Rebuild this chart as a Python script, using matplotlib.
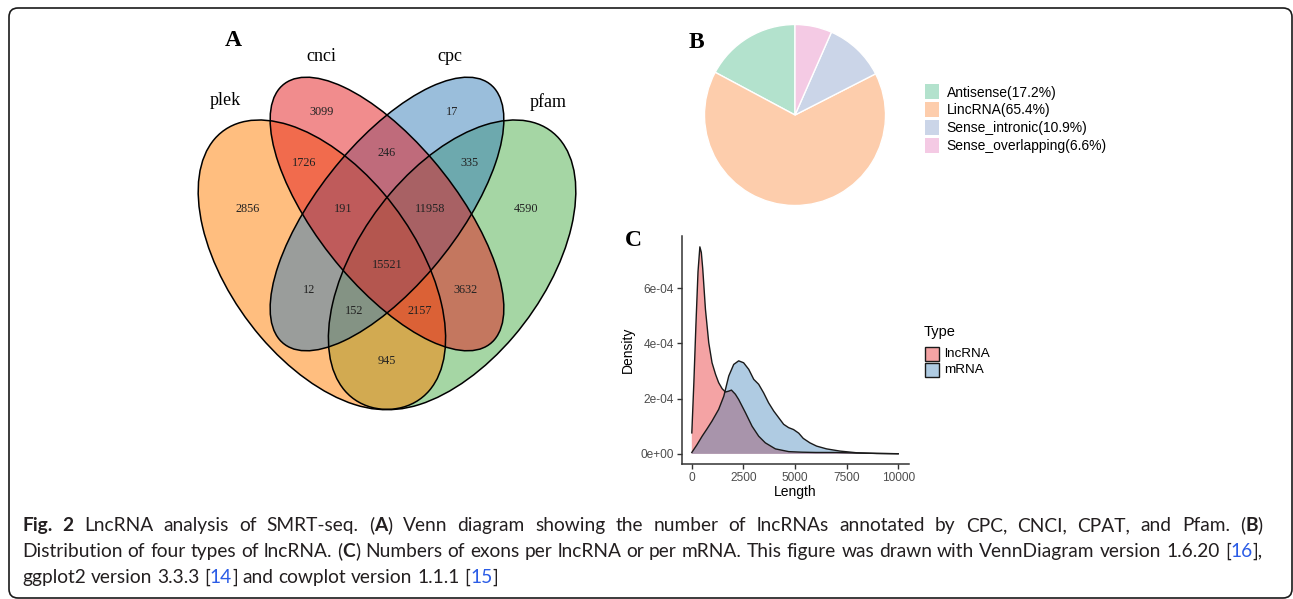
import matplotlib
matplotlib.use("Agg")
import matplotlib.pyplot as plt
from matplotlib.patches import Ellipse, Rectangle, FancyBboxPatch

W, H, DPI = 1293, 599, 100

# ---------------- data ----------------
venn_names = ["plek", "cnci", "cpc", "pfam"]
venn_fill = ["#FF7F00", "#E41A1C", "#377EB8", "#4DAF4A"]
region_sets = [("plek",), ("cnci",), ("cpc",), ("pfam",),
               ("plek", "cnci"), ("cnci", "cpc"), ("cpc", "pfam"),
               ("plek", "cnci", "cpc"), ("cnci", "cpc", "pfam"),
               ("plek", "cnci", "cpc", "pfam"),
               ("plek", "cpc"), ("cnci", "pfam"),
               ("plek", "cpc", "pfam"), ("plek", "cnci", "pfam"),
               ("plek", "pfam")]
region_counts = [2856, 3099, 17, 4590, 1726, 246, 335, 191, 11958, 15521,
                 12, 3632, 152, 2157, 945]

pie_types = ["Antisense", "LincRNA", "Sense_intronic", "Sense_overlapping"]
pie_pct = [17.2, 65.4, 10.9, 6.6]
pie_colors = ["#B3E2CD", "#FDCDAC", "#CBD5E8", "#F4CAE4"]

dens_types = ["lncRNA", "mRNA"]
dens_colors = ["#E41A1C", "#377EB8"]
dens_unit = 1e-4
lnc_len = [0, 100, 200, 300, 390, 460, 530, 660, 820, 980, 1150, 1300, 1470,
           1630, 1780, 1920, 2110, 2270, 2600, 2920, 3240, 3560, 4050, 4700,
           5350, 6000, 7000, 8000, 9000, 10000]
lnc_den = [0.76, 2.6, 4.7, 6.6, 7.5, 7.3, 6.7, 5.24, 4.03, 3.30, 2.88, 2.58,
           2.36, 2.24, 2.27, 2.31, 2.16, 1.97, 1.49, 1.00, 0.64, 0.40, 0.18,
           0.08, 0.06, 0.05, 0.05, 0.03, 0.015, 0.005]
mrna_len = [0, 250, 500, 750, 980, 1300, 1550, 1790, 2030, 2270, 2510, 2760,
            3000, 3240, 3480, 3720, 3970, 4210, 4450, 4690, 4930, 5180, 5400,
            5720, 6050, 6530, 7180, 7980, 8950, 10000]
mrna_den = [0.05, 0.33, 0.64, 0.92, 1.19, 1.61, 2.09, 2.82, 3.24, 3.37, 3.30,
            3.06, 2.70, 2.52, 2.21, 1.85, 1.55, 1.31, 1.07, 0.95, 0.88, 0.75,
            0.56, 0.40, 0.28, 0.18, 0.10, 0.04, 0.015, 0.003]
x_ticks = [0, 2500, 5000, 7500, 10000]
y_ticks = [0, 2e-4, 4e-4, 6e-4]

caption_lines = [
    [("Fig. 2", "bold", "k"), (" LncRNA analysis of SMRT-seq. (", "normal", "k"),
     ("A", "bold", "k"),
     (") Venn diagram showing the number of lncRNAs annotated by CPC, CNCI, CPAT, and Pfam. (", "normal", "k"),
     ("B", "bold", "k"), (")", "normal", "k")],
    [("Distribution of four types of lncRNA. (", "normal", "k"), ("C", "bold", "k"),
     (") Numbers of exons per lncRNA or per mRNA. This figure was drawn with VennDiagram version 1.6.20 [", "normal", "k"),
     ("16", "normal", "b"), ("],", "normal", "k")],
    [("ggplot2 version 3.3.3 [", "normal", "k"), ("14", "normal", "b"),
     ("] and cowplot version 1.1.1 [", "normal", "k"), ("15", "normal", "b"),
     ("]", "normal", "k")],
]
caption_justify = [True, True, False]

# ---------------- layout / style ----------------
SERIF = "Liberation Serif"
SANS = "Liberation Sans"
CAP_FONT = "Lato"
TXT = "#231F20"
LINK = "#2B5CE6"

fig = plt.figure(figsize=(W / DPI, H / DPI), dpi=DPI)
fig.patch.set_facecolor("white")


def add_axes_px(x0, y0, x1, y1):
    return fig.add_axes([x0 / W, 1 - y1 / H, (x1 - x0) / W, (y1 - y0) / H])


# ---------------- A: Venn ----------------
sx, sy = 434.0, 508.0
cxp, cyp = 387.0, 214.0
X0, X1, Y0, Y1 = 180, 600, 10, 430
axv = add_axes_px(X0, Y0, X1, Y1)
axv.set_xlim(0.5 + (X0 - cxp) / sx, 0.5 + (X1 - cxp) / sx)
axv.set_ylim(0.57 - (Y1 - cyp) / sy, 0.57 + (cyp - Y0) / sy)
axv.axis("off")

ell_layout = {"plek": (0.35, 0.47, 0.35, 0.20, -45),
              "cnci": (0.50, 0.57, 0.35, 0.15, -45),
              "cpc": (0.50, 0.57, 0.35, 0.15, 45),
              "pfam": (0.65, 0.47, 0.35, 0.20, 45)}
fill_order = ["pfam", "plek", "cpc", "cnci"]
for nm in fill_order:
    x, y, a, b, ang = ell_layout[nm]
    col = venn_fill[venn_names.index(nm)]
    axv.add_patch(Ellipse((x, y), 2 * a, 2 * b, angle=ang, facecolor=col,
                          alpha=0.5, edgecolor="none"))
for nm in venn_names:
    x, y, a, b, ang = ell_layout[nm]
    axv.add_patch(Ellipse((x, y), 2 * a, 2 * b, angle=ang, facecolor="none",
                          edgecolor="black", lw=1.1))

region_pos = {("plek",): (0.18, 0.58), ("cnci",): (0.35, 0.77),
              ("cpc",): (0.65, 0.77), ("pfam",): (0.82, 0.58),
              ("plek", "cnci"): (0.31, 0.67), ("cnci", "cpc"): (0.50, 0.69),
              ("cpc", "pfam"): (0.69, 0.67), ("plek", "cnci", "cpc"): (0.40, 0.58),
              ("cnci", "cpc", "pfam"): (0.60, 0.58),
              ("plek", "cnci", "cpc", "pfam"): (0.50, 0.47),
              ("plek", "cpc"): (0.32, 0.42), ("cnci", "pfam"): (0.68, 0.42),
              ("plek", "cpc", "pfam"): (0.425, 0.38),
              ("plek", "cnci", "pfam"): (0.575, 0.38),
              ("plek", "pfam"): (0.50, 0.28)}
for members, cnt in zip(region_sets, region_counts):
    x, y = region_pos[members]
    axv.text(x, y, str(cnt), ha="center", va="center", fontsize=8.8,
             family=SERIF, color="#222222")

cat_pos = {"plek": (0.127, 0.794), "cnci": (0.348, 0.881),
           "cpc": (0.646, 0.881), "pfam": (0.872, 0.79)}
for nm in venn_names:
    x, y = cat_pos[nm]
    axv.text(x, y, nm, ha="center", va="center", fontsize=13, family=SERIF,
             color="black")

# ---------------- B: pie ----------------
r_px = 90.5
pcx, pcy = 795.0, 115.0
axp = add_axes_px(pcx - 100, pcy - 100, pcx + 100, pcy + 100)
axp.pie(pie_pct, colors=pie_colors, startangle=90, counterclock=True, radius=1,
        wedgeprops=dict(edgecolor="white", linewidth=1.0))
lim = 100 / r_px
axp.set_xlim(-lim, lim)
axp.set_ylim(-lim, lim)
axp.axis("off")

# ---------------- C: density ----------------
all_d = [v * dens_unit for v in lnc_den + mrna_den]
dmax = max(all_d)
axd = add_axes_px(681.5, 236.5, 908.5, 464.2)
for xs, ds, col in [(lnc_len, lnc_den, dens_colors[0]),
                    (mrna_len, mrna_den, dens_colors[1])]:
    dv = [v * dens_unit for v in ds]
    axd.fill_between(xs, 0, dv, facecolor=col, alpha=0.4, lw=0)
    axd.plot(xs, dv, color="#1a1a1a", lw=1.0, solid_joinstyle="round")
xr = 10000
axd.set_xlim(-0.05 * xr, xr * 1.05)
axd.set_ylim(-0.05 * dmax, dmax * 1.05)
axd.set_xticks(x_ticks)
axd.set_xticklabels([str(v) for v in x_ticks])
axd.set_yticks(y_ticks)
axd.set_yticklabels([f"{v:.0e}" for v in y_ticks])
for s in ["top", "right"]:
    axd.spines[s].set_visible(False)
for s in ["left", "bottom"]:
    axd.spines[s].set_color("#333333")
    axd.spines[s].set_linewidth(1.1)
axd.tick_params(length=3.6, width=1.0, color="#333333", labelsize=8.6,
                labelcolor="#4D4D4D", pad=2)
for lab in axd.get_xticklabels() + axd.get_yticklabels():
    lab.set_family(SANS)
axd.set_facecolor("none")

# ---------------- overlay (pixel coordinates) ----------------
ov = fig.add_axes([0, 0, 1, 1])
ov.set_xlim(0, W)
ov.set_ylim(H, 0)
ov.axis("off")
ov.patch.set_alpha(0)

ov.add_patch(FancyBboxPatch((9, 8), 1283, 590,
                            boxstyle="round,pad=0,rounding_size=9",
                            facecolor="none", edgecolor="#1a1a1a", lw=1.2))

for lab, (x, y) in zip(["A", "B", "C"], [(233, 41), (696, 42), (633, 241)]):
    ov.text(x, y, lab, ha="center", va="center", fontsize=17,
            fontweight="bold", family=SERIF, color="black")

# pie legend
for i, (nm, pct, col) in enumerate(zip(pie_types, pie_pct, pie_colors)):
    yc = 91.5 + i * 17.9
    ov.add_patch(Rectangle((925, yc - 7.5), 14.3, 15, facecolor=col,
                           edgecolor="none"))
    ov.text(946.7, yc + 1, f"{nm}({pct}%)", ha="left", va="center",
            fontsize=10, family=SANS, color="black")

# density legend
ov.text(923.3, 332, "Type", ha="left", va="center", fontsize=10.5,
        family=SANS, color="black")
for i, (nm, col) in enumerate(zip(dens_types, dens_colors)):
    yt = 347 + i * 15.7
    ov.add_patch(Rectangle((924.5, yt), 14.5, 14.3, facecolor=col, alpha=0.4,
                           edgecolor="none"))
    ov.add_patch(Rectangle((924.5, yt), 14.5, 14.3, facecolor="none",
                           edgecolor="#1a1a1a", lw=1.0))
    ov.text(944.3, yt + 7.2, nm, ha="left", va="center", fontsize=9.7,
            family=SANS, color="black")

ov.text(795, 492, "Length", ha="center", va="center", fontsize=10,
        family=SANS, color="black")
ov.text(628, 350, "Density", ha="center", va="center", fontsize=10,
        rotation=90, family=SANS, color="black")

# caption (justified like the journal layout)
renderer = fig.canvas.get_renderer()


def text_w(s, **kw):
    t = ov.text(0, 0, s, **kw)
    w = t.get_window_extent(renderer).width
    t.remove()
    return w


def rich_line(segs, x, y, size, extra=0.0, draw=True):
    for s, weight, c in segs:
        kw = dict(fontsize=size, family=CAP_FONT, fontweight=weight)
        sp = text_w("a a", **kw) - text_w("aa", **kw) + extra
        words = s.split(" ")
        for j, wd in enumerate(words):
            if j > 0:
                x += sp
            if wd:
                if draw:
                    ov.text(x, y, wd, ha="left", va="baseline",
                            color=(LINK if c == "b" else TXT), **kw)
                x += text_w(wd, **kw)
    return x


CAP_X0, CAP_X1 = 22.0, 1263.0
base = 12.0
wmax = max(rich_line(segs, 0, 0, base, draw=False) for segs in caption_lines[:2])
cap_size = base * (CAP_X1 - CAP_X0 - 8) / wmax
for i, segs in enumerate(caption_lines):
    extra = 0.0
    if caption_justify[i]:
        natural = rich_line(segs, 0, 0, cap_size, draw=False)
        nspace = sum(s.count(" ") for s, _, _ in segs)
        extra = (CAP_X1 - CAP_X0 - natural) / max(nspace, 1)
    rich_line(segs, CAP_X0, 531 + i * 26, cap_size, extra=extra)

fig.savefig("out.png", dpi=DPI, facecolor="white")
